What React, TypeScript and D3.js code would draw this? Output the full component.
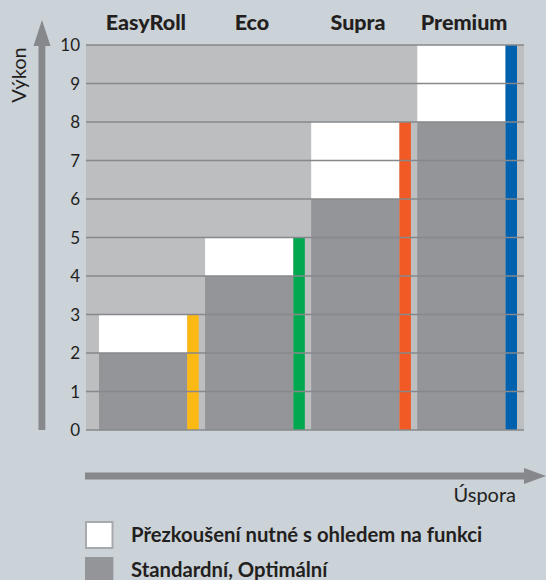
import React from 'react';
import * as d3 from 'd3';

const categories = ['EasyRoll', 'Eco', 'Supra', 'Premium'];
const standardValues = [2, 4, 6, 8];
const testValues = [3, 5, 8, 10];
const barColors = ['#fdb913', '#00a84f', '#f15a24', '#0061ae'];
const yTicks = [0, 1, 2, 3, 4, 5, 6, 7, 8, 9, 10];
const legendLabels = ['Přezkoušení nutné s ohledem na funkci', 'Standardní, Optimální'];

const App = () => {
  const width = 546;
  const height = 580;
  const plot = { left: 86, right: 524, top: 45, bottom: 430 };
  const font = "Lato, 'Open Sans', sans-serif";
  const ink = '#231f20';
  const lineGray = '#86888b';

  const xScale = d3.scaleBand()
    .domain(categories)
    .range([99, 517])
    .paddingInner(0.06)
    .paddingOuter(0);

  const yScale = d3.scaleLinear()
    .domain([0, 10])
    .range([plot.bottom, plot.top]);

  const bw = xScale.bandwidth();
  const stripW = 11.5;

  return (
    <svg width={width} height={height} style={{ position: 'absolute', left: 0, top: 0, display: 'block' }}>
      <rect x={0} y={0} width={width} height={height} fill='#cbd2d8' />

      {/* plot background */}
      <rect x={plot.left} y={plot.top} width={plot.right - plot.left} height={plot.bottom - plot.top} fill='#bdbec0' />

      { categories.map((c, i) => {
        const x = xScale(c) as number;
        return (
          <g key={`col-${c}`}>
            <rect x={x} y={yScale(testValues[i])} width={bw - stripW} height={yScale(standardValues[i]) - yScale(testValues[i])} fill='#ffffff' />
            <rect x={x} y={yScale(standardValues[i])} width={bw - stripW} height={plot.bottom - yScale(standardValues[i])} fill='#939598' />
            <rect x={x + bw - stripW} y={yScale(testValues[i])} width={stripW} height={plot.bottom - yScale(testValues[i])} fill={barColors[i]} />
            <text x={x + bw / 2 - 3} y={30} textAnchor='middle' fill={ink} fontFamily={font} fontWeight={900} fontSize={21.5}>{c}</text>
          </g>
        );
      })}

      {/* grid lines */}
      { yTicks.map(t =>
        <g key={`tick-${t}`}>
          <line x1={plot.left} x2={plot.right} y1={yScale(t)} y2={yScale(t)} stroke={lineGray} strokeWidth={1.5} />
          <text x={80} y={yScale(t)} dy='0.36em' textAnchor='end' fill={ink} fontFamily={font} fontSize={17}>{t}</text>
        </g>
      )}

      {/* y axis arrow */}
      <rect x={38.5} y={40} width={6.8} height={plot.bottom - 40} fill='#86888b' />
      <path d='M33.5,46 L42,20 L50.5,46 Z' fill='#86888b' />
      <text transform='translate(26,75) rotate(-90)' textAnchor='middle' fill={ink} fontFamily={font} fontSize={20}>Výkon</text>

      {/* x axis arrow */}
      <rect x={85} y={472.5} width={442} height={7} fill='#86888b' />
      <path d='M524,468 L546,476 L524,484 Z' fill='#86888b' />
      <text x={516} y={501.5} textAnchor='end' fill={ink} fontFamily={font} fontSize={20}>Úspora</text>

      {/* legend */}
      <rect x={86} y={522} width={26.5} height={26} fill='#ffffff' stroke='#a7a9ac' strokeWidth={2} />
      <text x={131} y={542} fill={ink} fontFamily={font} fontWeight={700} fontSize={20.3}>{legendLabels[0]}</text>
      <rect x={85} y={557} width={28.3} height={27} fill='#939598' />
      <text x={131} y={577} fill={ink} fontFamily={font} fontWeight={700} fontSize={20.3}>{legendLabels[1]}</text>
    </svg>
  );
};

export default App;
